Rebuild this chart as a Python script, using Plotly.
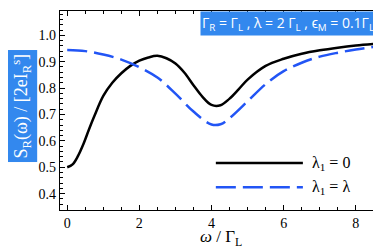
import plotly.graph_objects as go

# data
omega_a = [0.0, 0.15, 0.3, 0.45, 0.6, 0.75, 1.0, 1.25, 1.5, 1.75, 2.0, 2.25, 2.5, 2.75, 3.0, 3.25, 3.5,
           3.75, 4.0, 4.25, 4.5, 4.75, 5.0, 5.5, 6.0, 6.5, 7.0, 7.5, 8.0, 8.5]
s_a = [0.500, 0.511, 0.543, 0.588, 0.642, 0.693, 0.770, 0.820, 0.856, 0.884, 0.904, 0.916, 0.922,
       0.913, 0.893, 0.858, 0.811, 0.767, 0.736, 0.735, 0.760, 0.795, 0.832, 0.884, 0.911, 0.930,
       0.943, 0.953, 0.961, 0.967]
omega_b = [0.0, 0.5, 1.0, 1.5, 2.0, 2.5, 3.0, 3.5, 4.0, 4.25, 4.5, 5.0, 5.5, 6.0, 6.5, 7.0, 7.5, 8.0, 8.5]
s_b = [0.944, 0.940, 0.927, 0.908, 0.879, 0.840, 0.779, 0.711, 0.662, 0.663, 0.686, 0.750, 0.815,
       0.864, 0.896, 0.919, 0.934, 0.946, 0.956]
names = ["λ<sub>1</sub> = 0", "λ<sub>1</sub> = λ"]
x_ticks = [0, 2, 4, 6, 8]
y_ticks = [0.4, 0.5, 0.6, 0.7, 0.8, 0.9, 1.0]

BLUE_BOX = "#3388ee"
BLUE_LINE = "#2255f5"
SERIF = "Liberation Serif, Times New Roman, serif"

fig = go.Figure()
fig.add_trace(go.Scatter(x=omega_a, y=s_a, mode="lines", name=names[0],
                         line=dict(color="black", width=2.5, shape="spline", smoothing=1.0)))
fig.add_trace(go.Scatter(x=omega_b, y=s_b, mode="lines", name=names[1],
                         line=dict(color=BLUE_LINE, width=2.5, shape="spline", smoothing=1.0,
                                   dash="20px,7px")))

axis_common = dict(showline=True, linecolor="black", linewidth=1.2, mirror="ticks",
                   ticks="inside", ticklen=5, tickwidth=1, tickcolor="black",
                   showgrid=False, zeroline=False,
                   tickfont=dict(family=SERIF, size=14, color="black"))

fig.update_xaxes(range=[-0.2, 8.67], tickvals=x_ticks, ticktext=[str(v) for v in x_ticks],
                 minor=dict(dtick=0.5, ticks="inside", ticklen=3, tickcolor="black"),
                 **axis_common)
fig.update_yaxes(range=[0.338, 1.092], tickvals=y_ticks, ticktext=[f"{v:.1f}" for v in y_ticks],
                 minor=dict(dtick=0.02, ticks="inside", ticklen=3, tickcolor="black"),
                 **axis_common)

# x-axis title
fig.add_annotation(xref="paper", yref="paper", x=0.503, y=-0.143, xanchor="center", yanchor="middle",
                   text="<i>ω</i> / Γ<sub>L</sub>", showarrow=False,
                   font=dict(family=SERIF, size=17, color="black"))

# legend drawn as keys inside the frame
leg_rows = [(0.236, "black", "solid"), (0.114, BLUE_LINE, "20px,7px")]
for (yy, col, dsh), nm in zip(leg_rows, names):
    fig.add_shape(type="line", xref="paper", yref="paper", x0=0.487, x1=0.759, y0=yy, y1=yy,
                  line=dict(color=col, width=2.5, dash=dsh))
    fig.add_annotation(xref="paper", yref="paper", x=0.78, y=yy, xanchor="left", yanchor="middle",
                       text=nm, showarrow=False, font=dict(family=SERIF, size=16, color="black"))

# parameter box (top right)
fig.add_annotation(xref="paper", yref="paper", x=1.0, y=1.0, xanchor="right", yanchor="top",
                   text="Γ<sub>R</sub> = Γ<sub>L</sub> , λ = 2 Γ<sub>L</sub> , ϵ<sub>M</sub> = 0.1Γ<sub>L</sub>&nbsp;",
                   showarrow=False, bgcolor=BLUE_BOX, borderpad=1,
                   font=dict(family="Open Sans, sans-serif", size=14, color="white"))

# y-axis title box
fig.add_annotation(xref="paper", yref="paper", x=-0.12, y=0.523, xanchor="center", yanchor="middle",
                   text="S<sub>R</sub>(ω) / [2eI<sub>R</sub><sup>s</sup>]", textangle=-90,
                   showarrow=False, bgcolor=BLUE_BOX, borderpad=3,
                   font=dict(family=SERIF, size=18, color="white"))

fig.update_layout(width=381, height=249, margin=dict(l=52, r=9, t=3, b=47),
                  paper_bgcolor="white", plot_bgcolor="white", showlegend=False)

fig.write_html("out.html")
